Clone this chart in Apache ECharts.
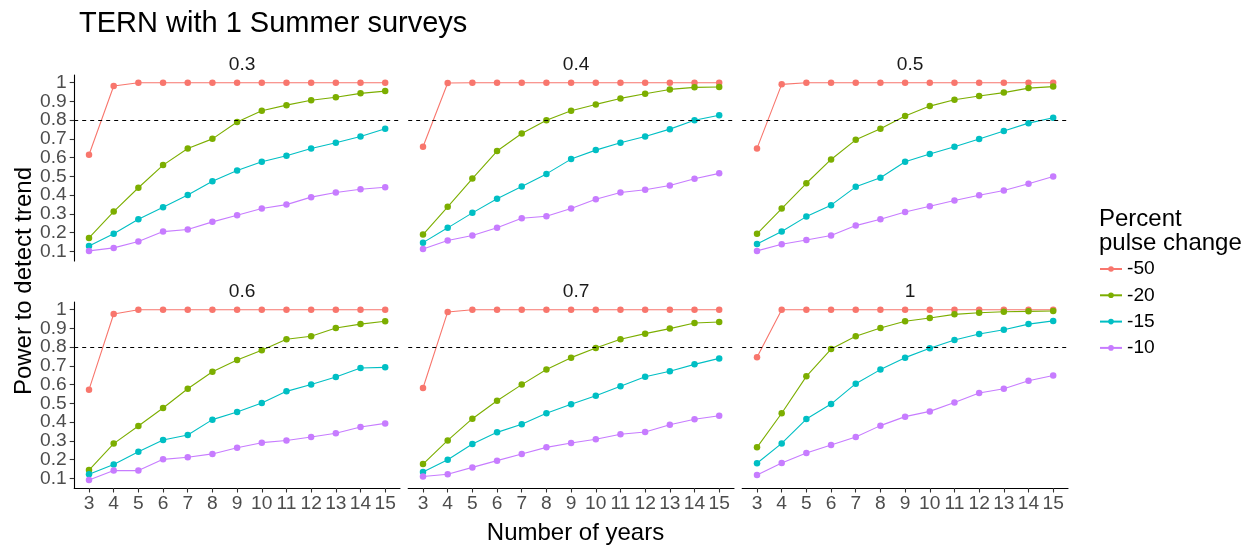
<!DOCTYPE html>
<html>
<head>
<meta charset="utf-8">
<script src="https://cdn.jsdelivr.net/npm/echarts@6/dist/echarts.min.js"></script>
<style>
html,body{margin:0;padding:0;background:#fff;}
#chart{width:1246px;height:546px;}
</style>
</head>
<body>
<div id="chart"></div>
<script>
// ---- data ----
const years = [3,4,5,6,7,8,9,10,11,12,13,14,15];
const changes = ['-50','-20','-15','-10'];
const panelLabels = ['0.3','0.4','0.5','0.6','0.7','1'];
const yTicks = [0.1,0.2,0.3,0.4,0.5,0.6,0.7,0.8,0.9,1];
const yTickLabels = ['0.1','0.2','0.3','0.4','0.5','0.6','0.7','0.8','0.9','1'];
const threshold = 0.8;

// rows: -50, -20, -15, -10
const power_03 = [
  [0.615,0.982,1,1,1,1,1,1,1,1,1,1,1],
  [0.171,0.312,0.439,0.560,0.649,0.700,0.790,0.850,0.880,0.906,0.922,0.943,0.955],
  [0.128,0.193,0.271,0.335,0.400,0.474,0.531,0.578,0.610,0.649,0.679,0.713,0.754],
  [0.102,0.118,0.152,0.205,0.216,0.257,0.292,0.328,0.349,0.389,0.414,0.431,0.442]
];
const power_04 = [
  [0.658,0.998,1,1,1,1,1,1,1,1,1,1,1],
  [0.189,0.337,0.488,0.635,0.729,0.800,0.850,0.884,0.916,0.941,0.964,0.975,0.977],
  [0.146,0.225,0.305,0.380,0.446,0.513,0.592,0.640,0.679,0.713,0.752,0.799,0.826],
  [0.112,0.157,0.184,0.225,0.276,0.287,0.328,0.378,0.414,0.428,0.451,0.487,0.516]
];
const power_05 = [
  [0.649,0.991,1,1,1,1,1,1,1,1,1,1,1],
  [0.193,0.328,0.463,0.590,0.695,0.754,0.822,0.875,0.909,0.929,0.947,0.971,0.979],
  [0.139,0.205,0.285,0.346,0.444,0.492,0.578,0.619,0.658,0.699,0.742,0.784,0.813],
  [0.102,0.137,0.160,0.184,0.237,0.271,0.310,0.340,0.371,0.399,0.424,0.460,0.499]
];
const power_06 = [
  [0.573,0.977,1,1,1,1,1,1,1,1,1,1,1],
  [0.144,0.285,0.379,0.475,0.578,0.669,0.731,0.783,0.842,0.858,0.902,0.923,0.938],
  [0.121,0.173,0.242,0.304,0.331,0.413,0.454,0.502,0.564,0.601,0.641,0.689,0.692],
  [0.091,0.141,0.141,0.201,0.212,0.230,0.263,0.290,0.302,0.320,0.340,0.374,0.393]
];
const power_07 = [
  [0.582,0.988,1,1,1,1,1,1,1,1,1,1,1],
  [0.176,0.302,0.418,0.514,0.600,0.681,0.744,0.795,0.842,0.872,0.899,0.929,0.934],
  [0.133,0.199,0.283,0.345,0.388,0.447,0.495,0.541,0.591,0.642,0.671,0.708,0.740],
  [0.109,0.121,0.158,0.194,0.230,0.265,0.288,0.308,0.335,0.347,0.386,0.415,0.434]
];
const power_1 = [
  [0.746,1,1,1,1,1,1,1,1,1,1,1,1],
  [0.265,0.447,0.644,0.790,0.858,0.902,0.938,0.956,0.975,0.984,0.989,0.991,0.993],
  [0.180,0.286,0.416,0.496,0.605,0.680,0.744,0.794,0.838,0.870,0.893,0.923,0.940],
  [0.117,0.181,0.235,0.278,0.320,0.381,0.429,0.457,0.504,0.555,0.578,0.621,0.649]
];
const panels = [power_03, power_04, power_05, power_06, power_07, power_1];

// ---- styling ----
const colors = ['#F8766D','#7CAE00','#00BFC4','#C77CFF'];
const FONT = 'Liberation Sans, Arial, sans-serif';
const colLeft = [74.2, 408.2, 742.2];
const panelW = 325.8;
const rowTop = [75, 302];
const panelH = 186;
const Y_MIN = 0.048, Y_MAX = 1.041;

const grids = [], xAxes = [], yAxes = [], series = [], titles = [];
const extraY = [];

const yFormatter = v => { const i = yTicks.findIndex(t => Math.abs(t - v) < 1e-6); return i >= 0 ? yTickLabels[i] : ''; };
// ticks split into two interleaved sets so the library does not drop crowded labels
const yTicksA = yTicks.filter((t, i) => i % 2 === 0);
const yTicksB = yTicks.filter((t, i) => i % 2 === 1);

function makeY(gridIndex, show, ticks, drawLine) {
  return {
    type: 'value', gridIndex: gridIndex, min: Y_MIN, max: Y_MAX, position: 'left', offset: 0,
    show: show,
    splitLine: {show: false},
    axisLine: {show: show && drawLine, onZero: false, lineStyle: {color: '#000', width: 1.1}},
    axisTick: {show: show, customValues: ticks, length: 4.5, lineStyle: {color: '#333', width: 1.1}},
    axisLabel: {show: show, customValues: ticks, margin: 7.5, color: '#4D4D4D',
      showMinLabel: true, showMaxLabel: true, hideOverlap: false,
      fontFamily: FONT, fontSize: 19.2, formatter: yFormatter}
  };
}

titles.push({
  text: 'TERN with 1 Summer surveys', left: 74, top: 4.5,
  textStyle: {fontFamily: FONT, fontSize: 29, fontWeight: 'normal', color: '#000', lineHeight: 29}
});
titles.push({
  text: 'Number of years', left: 570.5, top: 516.5, textAlign: 'center',
  textStyle: {fontFamily: FONT, fontSize: 24, fontWeight: 'normal', color: '#000', lineHeight: 24}
});
titles.push({
  text: 'Percent\npulse change', left: 1094, top: 202,
  textStyle: {fontFamily: FONT, fontSize: 24, fontWeight: 'normal', color: '#000', lineHeight: 24}
});

panels.forEach((rows, p) => {
  const r = Math.floor(p / 3), c = p % 3;
  grids.push({left: colLeft[c], top: rowTop[r], width: panelW, height: panelH, containLabel: false});
  const bottomRow = r === 1, leftCol = c === 0;
  xAxes.push({
    type: 'value', gridIndex: p, min: 2.4, max: 15.6,
    show: bottomRow,
    splitLine: {show: false},
    axisLine: {show: bottomRow, onZero: false, lineStyle: {color: '#000', width: 1.1}},
    axisTick: {show: bottomRow, customValues: years, length: 4.5, lineStyle: {color: '#333', width: 1.1}},
    axisLabel: {show: bottomRow, customValues: years, margin: 6, color: '#4D4D4D',
      showMinLabel: true, showMaxLabel: true, hideOverlap: false,
      fontFamily: FONT, fontSize: 19.2, formatter: v => String(v)}
  });
  yAxes.push(makeY(p, leftCol, yTicksA, true));
  if (leftCol) extraY.push(makeY(p, true, yTicksB, false));
  titles.push({
    text: panelLabels[p], left: colLeft[c] + panelW / 2, top: rowTop[r] - 15 - 9.6, textAlign: 'center',
    textStyle: {fontFamily: FONT, fontSize: 19.2, fontWeight: 'normal', color: '#1A1A1A', lineHeight: 19.2}
  });
  rows.forEach((vals, s) => {
    const ser = {
      type: 'line', name: changes[s], xAxisIndex: p, yAxisIndex: p,
      data: years.map((y, i) => [y, vals[i]]),
      symbol: 'circle', symbolSize: 6.5, showSymbol: true,
      color: colors[s],
      lineStyle: {width: 1.1, color: colors[s]},
      itemStyle: {color: colors[s]},
      emphasis: {disabled: true},
      animation: false
    };
    if (s === 0) {
      ser.markLine = {
        silent: true, symbol: ['none','none'], label: {show: false},
        lineStyle: {color: '#000', type: [4, 4], width: 1},
        data: [{yAxis: threshold}], animation: false
      };
    }
    series.push(ser);
  });
});

const chart = echarts.init(document.getElementById('chart'), null, {renderer: 'canvas'});
chart.setOption({
  backgroundColor: '#fff',
  animation: false,
  title: titles,
  grid: grids,
  xAxis: xAxes,
  yAxis: yAxes.concat(extraY),
  series: series,
  legend: {
    data: changes, orient: 'vertical', left: 1094, top: 254,
    itemWidth: 22, itemHeight: 7, itemGap: 6.3,
    selectedMode: false,
    textStyle: {fontFamily: FONT, fontSize: 19.2, color: '#000', lineHeight: 20, padding: [0,0,0,0]}
  },
  graphic: [{
    type: 'text', x: 24, y: 281, rotation: Math.PI / 2,
    style: {text: 'Power to detect trend', font: '24px ' + FONT, fill: '#000', align: 'center', verticalAlign: 'middle'}
  }]
});
</script>
</body>
</html>
